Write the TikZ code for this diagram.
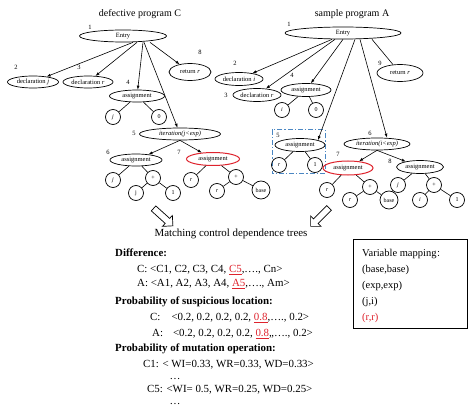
\documentclass[tikz,border=0pt]{standalone}
\usepackage{fontspec}
\setmainfont{Liberation Serif}
\newfontfamily\cjk{Noto Sans CJK SC}
\usetikzlibrary{shapes.geometric,shapes.arrows,arrows.meta}
\definecolor{mred}{RGB}{222,35,45}
\definecolor{mblue}{RGB}{75,135,195}
\newcommand{\redul}[1]{\textcolor{mred}{\underline{#1}}}
\tikzset{
	stmt/.style={ellipse, draw, line width=0.7pt, inner sep=0pt, minimum height=12pt, font=\fontsize{6.5}{7}\selectfont},
	leaf/.style={circle, draw, line width=0.7pt, inner sep=0pt, minimum size=15pt, font=\fontsize{6}{7}\selectfont},
	num/.style={inner sep=0pt, font=\fontsize{6.5}{7}\selectfont},
	dep/.style={line width=0.6pt, -{Latex[length=4pt,width=3pt]}},
	tie/.style={line width=0.6pt},
	hollow/.style={single arrow, draw, line width=0.7pt, inner sep=3pt, minimum height=26pt, single arrow head extend=4pt},
	txt/.style={anchor=base west, inner sep=0pt, font=\fontsize{10.9}{12}\selectfont},
	title/.style={anchor=base, inner sep=0pt, font=\fontsize{10}{12}\selectfont},
}

\begin{document}
\begin{tikzpicture}[x=1pt, y=-1pt]
			%%%%% START %%%%%
			\useasboundingbox (0,0) rectangle (474,409);
			
			% defective program C
			\node[title] (titleC) at (140,16.5) {defective program C};
			\node[stmt, minimum width=87pt] (eC) at (123,36) {Entry};
			\node[num] (nC1) at (90,27) {1};
			\node[stmt, minimum width=51pt] (dj) at (33,82) {declaration \textit{j}};
			\node[num] (nC2) at (16,67) {2};
			\node[stmt, minimum width=50pt] (dr) at (88,82) {declaration \textit{r}};
			\node[num] (nC3) at (79,67) {3};
			\node[stmt, minimum width=55pt] (aC) at (137,96) {assignment};
			\node[num] (nC4) at (128,82) {4};
			\node[leaf] (jC0) at (113,117) {\textit{j}};
			\node[leaf] (zC0) at (159,117) {0};
			\node[stmt, minimum width=42pt, minimum height=17pt] (rtC) at (190,72) {return \textit{r}};
			\node[num] (nC8) at (200,52) {8};
			\node[stmt, minimum width=81pt] (itC) at (180,134) {\textit{iteration(j<exp)}};
			\node[num] (nC5) at (134,133) {5};
			\node[stmt, minimum width=52pt] (a6C) at (136,160) {assignment};
			\node[num] (nC6) at (108,152) {6};
			\node[stmt, minimum width=53pt, minimum height=13pt, draw=mred, line width=1pt] (a7C) at (213,159) {assignment};
			\node[num] (nC7) at (179,152) {7};
			\node[leaf] (jC1) at (113,180) {\textit{j}};
			\node[leaf] (pC1) at (153,178) {+};
			\node[leaf] (jC2) at (136,193) {j};
			\node[leaf] (oneC) at (173,193) {1};
			\node[leaf] (rC1) at (191,180) {\textit{r}};
			\node[leaf] (pC2) at (236,177) {+};
			\node[leaf] (rC2) at (217,191) {\textit{r}};
			\node[leaf, minimum size=18pt] (baseC) at (261,190) {base};
			
			\draw[dep] ([xshift=10]eC.south) -- (dj);
			\draw[dep] ([xshift=14]eC.south) -- (dr);
			\draw[dep] ([xshift=20]eC.south) -- (aC);
			\draw[dep] ([xshift=21]eC.south) -- (itC);
			\draw[dep] ([xshift=27]eC.south) -- (rtC);
			\draw[tie] (aC) -- (jC0);
			\draw[tie] (aC) -- (zC0);
			\draw[dep] (itC.south) -- (a6C);
			\draw[dep] (itC.south) -- (a7C);
			\draw[tie] (a6C) -- (jC1);
			\draw[tie] (a6C) -- (pC1);
			\draw[tie] (pC1) -- (jC2);
			\draw[tie] (pC1) -- (oneC);
			\draw[tie] (a7C) -- (rC1);
			\draw[tie] (a7C) -- (pC2);
			\draw[tie] (pC2) -- (rC2);
			\draw[tie] (pC2) -- (baseC);
			
			% sample program A
			\node[title] (titleA) at (352,16.5) {sample program A};
			\node[stmt, minimum width=116pt] (eA) at (343,33) {Entry};
			\node[num] (nA1) at (289,24) {1};
			\node[stmt, minimum width=48pt, minimum height=13pt] (di) at (239,79) {declaration \textit{i}};
			\node[num] (nA2) at (235,63) {2};
			\node[stmt, minimum width=48pt, minimum height=13pt] (drA) at (257,95) {declaration \textit{r}};
			\node[num] (nA3) at (226,95) {3};
			\node[stmt, minimum width=50pt, minimum height=13pt] (aA) at (306,90) {assignment};
			\node[num] (nA4) at (292,75) {4};
			\node[leaf] (iA) at (282,110) {\textit{i}};
			\node[leaf] (zA) at (316,110) {0};
			\node[stmt, minimum width=46pt, minimum height=17pt] (rtA) at (400,73) {return \textit{r}};
			\node[num] (nA9) at (380,63) {9};
			\draw[mblue, line width=1pt, dash pattern=on 5pt off 2pt on 1.2pt off 2pt] (272,130) rectangle (325,174);
			\node[stmt, minimum width=50pt, minimum height=13pt] (a5A) at (300,145) {assignment};
			\node[num] (nA5) at (278,135) {5};
			\node[leaf] (rA0) at (279,165) {\textit{r}};
			\node[leaf] (oneA0) at (315,165) {1};
			\node[stmt, minimum width=66pt] (itA) at (377,144) {\textit{iteration(i<exp)}};
			\node[num] (nA6) at (370,133) {6};
			\node[stmt, minimum width=50pt, minimum height=14pt, draw=mred, line width=1pt] (a7A) at (348,168) {assignment};
			\node[num] (nA7) at (338,154) {7};
			\node[stmt, minimum width=47pt, minimum height=13pt] (a8A) at (420,167) {assignment};
			\node[num] (nA8) at (390,161) {8};
			\node[leaf] (rA1) at (327,190) {\textit{r}};
			\node[leaf] (pA1) at (370,187) {+};
			\node[leaf] (rA2) at (350,200) {\textit{r}};
			\node[leaf, minimum size=18pt] (baseA) at (389,200) {base};
			\node[leaf] (jA) at (398,185) {\textit{j}};
			\node[leaf] (pA2) at (434,185) {+};
			\node[leaf] (iA2) at (420,200) {\textit{i}};
			\node[leaf] (oneA2) at (457,200) {1};
			
			\draw[dep] ([xshift=-11]eA.south) -- (di);
			\draw[dep] ([xshift=-8]eA.south) -- (drA);
			\draw[dep] (eA.south) -- (aA);
			\draw[dep] ([xshift=12]eA.south) -- (a5A.north east);
			\draw[dep] ([xshift=17]eA.south) -- ([xshift=10]itA.north);
			\draw[tie] ([xshift=29]eA.south) -- (rtA);
			\draw[tie] (aA) -- (iA);
			\draw[tie] (aA) -- (zA);
			\draw[tie] (a5A) -- (rA0);
			\draw[tie] (a5A) -- (oneA0);
			\draw[dep] (itA.south) -- (a7A);
			\draw[dep] (itA.south) -- (a8A);
			\draw[tie] (a7A) -- (rA1);
			\draw[tie] (a7A) -- (pA1);
			\draw[tie] (pA1) -- (rA2);
			\draw[tie] (pA1) -- (baseA);
			\draw[tie] (a8A) -- (jA);
			\draw[tie] (a8A) -- (pA2);
			\draw[tie] (pA2) -- (iA2);
			\draw[tie] (pA2) -- (oneA2);
			
			% matching
			\node[hollow, rotate=-42] (harrC) at (162,216) {};
			\node[hollow, rotate=-135] (harrA) at (321,216) {};
			\node[txt, anchor=base] (match) at (231,236.5) {Matching control dependence trees};
			
			\node[txt] (diff) at (115,256.5) {\textbf{Difference:}};
			\node[txt] (diffC) at (137,272.5) {C: <C1, C2, C3, C4, \redul{C5},…., Cn>};
			\node[txt] (diffA) at (137,286.5) {A: <A1, A2, A3, A4, \redul{A5},…., Am>};
			\node[txt] (susp) at (115,304.5) {\textbf{Probability of suspicious location:}};
			\node[txt] (suspC) at (150,320.5) {C:\hspace{11pt}<0.2, 0.2, 0.2, 0.2, \redul{0.8},…., 0.2>};
			\node[txt] (suspA) at (152,336.5) {A:\hspace{10pt}<0.2, 0.2, 0.2, 0.2, \redul{0.8},,…., 0.2>};
			\node[txt] (mut) at (115,351.5) {\textbf{Probability of mutation operation:}};
			\node[txt] (mutC1) at (143,367.5) {C1: < WI=0.33, WR=0.33, WD=0.33>};
			\node[txt, anchor=base] (dots1) at (175,379) {…};
			\node[txt] (mutC5) at (147,392.5) {C5: <WI= 0.5, WR=0.25, WD=0.25>};
			\node[txt, anchor=base] (dots2) at (175,404) {…};
			
			% variable mapping
			\draw[line width=0.8pt] (353,239) rectangle (467,328);
			\node[txt, font=\fontsize{10.5}{12}\selectfont] (vmap) at (362,256.5) {Variable mapping{\cjk\fontsize{8}{10}\selectfont ：}};
			\node[txt, font=\fontsize{10.5}{12}\selectfont] (vm1) at (362,272.5) {(base,base)};
			\node[txt, font=\fontsize{10.5}{12}\selectfont] (vm2) at (362,288.5) {(exp,exp)};
			\node[txt, font=\fontsize{10.5}{12}\selectfont] (vm3) at (362,304.5) {(j,i)};
			\node[txt, font=\fontsize{10.5}{12}\selectfont, text=mred] (vm4) at (362,320.5) {(r,r)};
			
			%%%%% END %%%%%
\end{tikzpicture}
\end{document}
